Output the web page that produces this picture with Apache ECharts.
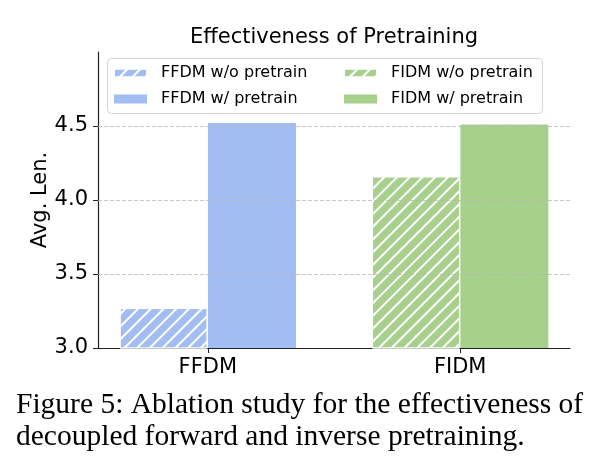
<!DOCTYPE html>
<html>
<head>
  <meta charset="utf-8">
  <style>
    html, body { margin: 0; padding: 0; width: 100%; height: 100%; background: #fff; }
    #main { width: 601px; height: 475px; }
  </style>
  <script src="https://cdn.jsdelivr.net/npm/echarts@6/dist/echarts.min.js"></script>
</head>
<body>
  <div id="main"></div>
  <script>
    // data
    const groups = ['FFDM', 'FIDM'];
    const woNames = ['FFDM w/o pretrain', 'FIDM w/o pretrain'];
    const wNames = ['FFDM w/ pretrain', 'FIDM w/ pretrain'];
    const woPretrain = [3.27, 4.16];
    const wPretrain = [4.52, 4.51];
    const yTicks = [3.0, 3.5, 4.0, 4.5];
    const colors = ['#a2bdf2', '#a8d08d'];

    const half = 0.175; // half bar width in axis units
    const font = 'DejaVu Sans';

    const hatch = {
      symbol: 'rect',
      symbolSize: 1,
      color: '#ffffff',
      backgroundColor: 'transparent',
      dashArrayX: [1, 0],
      dashArrayY: [1.2, 6.3],
      rotation: -Math.PI / 4
    };

    const series = [];
    groups.forEach(function (g, i) {
      series.push({
        name: woNames[i],
        type: 'bar',
        barWidth: 88,
        barGap: '-100%',
        data: [[i - half, woPretrain[i]]],
        itemStyle: { color: colors[i], borderColor: '#fff', borderWidth: 1, decal: hatch }
      });
      series.push({
        name: wNames[i],
        type: 'bar',
        barWidth: 88,
        barGap: '-100%',
        data: [[i + half, wPretrain[i]]],
        itemStyle: { color: colors[i] }
      });
    });
    // dashed grid lines, drawn over the bars
    series[0].markLine = {
      silent: true,
      symbol: ['none', 'none'],
      label: { show: false },
      z: 10,
      lineStyle: { type: [4, 2], color: '#b5b5b5', width: 1, opacity: 0.75 },
      data: yTicks.slice(1).map(function (v) { return { yAxis: v }; })
    };

    const chart = echarts.init(document.getElementById('main'), null, { renderer: 'canvas' });

    const legendText = { fontFamily: font, fontSize: 16, color: '#000', lineHeight: 18, padding: [0, 0, 0, 9] };

    chart.setOption({
      animation: false,
      textStyle: { fontFamily: font },
      title: [
        {
          text: 'Effectiveness of Pretraining',
          left: 334, top: 27, padding: 0, textAlign: 'center',
          textStyle: { fontFamily: font, fontSize: 21, fontWeight: 'normal', color: '#000' }
        },
        {
          text: 'Figure 5: Ablation study for the effectiveness of\ndecoupled forward and inverse pretraining.',
          left: 16, top: 389, padding: 0,
          textStyle: { fontFamily: 'Liberation Serif', fontSize: 29.5, lineHeight: 32, fontWeight: 'normal', color: '#000' }
        }
      ],
      grid: { left: 98, right: 31, top: 52, bottom: 127, containLabel: false },
      legend: [
        {
          data: [woNames[0], wNames[0]],
          orient: 'vertical', left: 113, top: 64, padding: 0,
          itemGap: 8, itemWidth: 33, itemHeight: 9, icon: 'rect',
          selectedMode: false, textStyle: legendText
        },
        {
          data: [woNames[1], wNames[1]],
          orient: 'vertical', left: 343, top: 64, padding: 0,
          itemGap: 8, itemWidth: 33, itemHeight: 9, icon: 'rect',
          selectedMode: false, textStyle: legendText
        }
      ],
      graphic: [{
        type: 'rect', z: 3,
        shape: { x: 107.5, y: 58.5, width: 435, height: 55, r: 4 },
        style: { fill: 'rgba(255,255,255,0.8)', stroke: '#d4d4d4', lineWidth: 1 }
      }],
      xAxis: {
        type: 'value',
        min: -0.435, max: 1.435,
        splitLine: { show: false },
        axisLine: { show: true, onZero: false, lineStyle: { color: '#222', width: 1.2 } },
        axisTick: { show: true, customValues: [0, 1], length: 5, lineStyle: { color: '#222', width: 1 } },
        axisLabel: {
          customValues: [0, 1], margin: 9,
          fontSize: 21, color: '#000', fontFamily: font,
          formatter: function (v) { return groups[Math.round(v)]; }
        }
      },
      yAxis: {
        type: 'value',
        min: 3, max: 5, interval: 0.5,
        name: 'Avg. Len.', nameLocation: 'middle', nameGap: 47, nameRotate: 90,
        nameMoveOverlap: false,
        nameTextStyle: { fontSize: 21, color: '#000', fontFamily: font },
        splitLine: { show: false },
        axisLine: { show: true, onZero: false, lineStyle: { color: '#222', width: 1.2 } },
        axisTick: { show: true, customValues: yTicks, length: 5, lineStyle: { color: '#222', width: 1 } },
        axisLabel: {
          customValues: yTicks, margin: 10,
          fontSize: 21, color: '#000', fontFamily: font,
          formatter: function (v) { return v.toFixed(1); }
        }
      },
      series: series
    });

    window.addEventListener('resize', chart.resize);
  </script>
</body>
</html>
